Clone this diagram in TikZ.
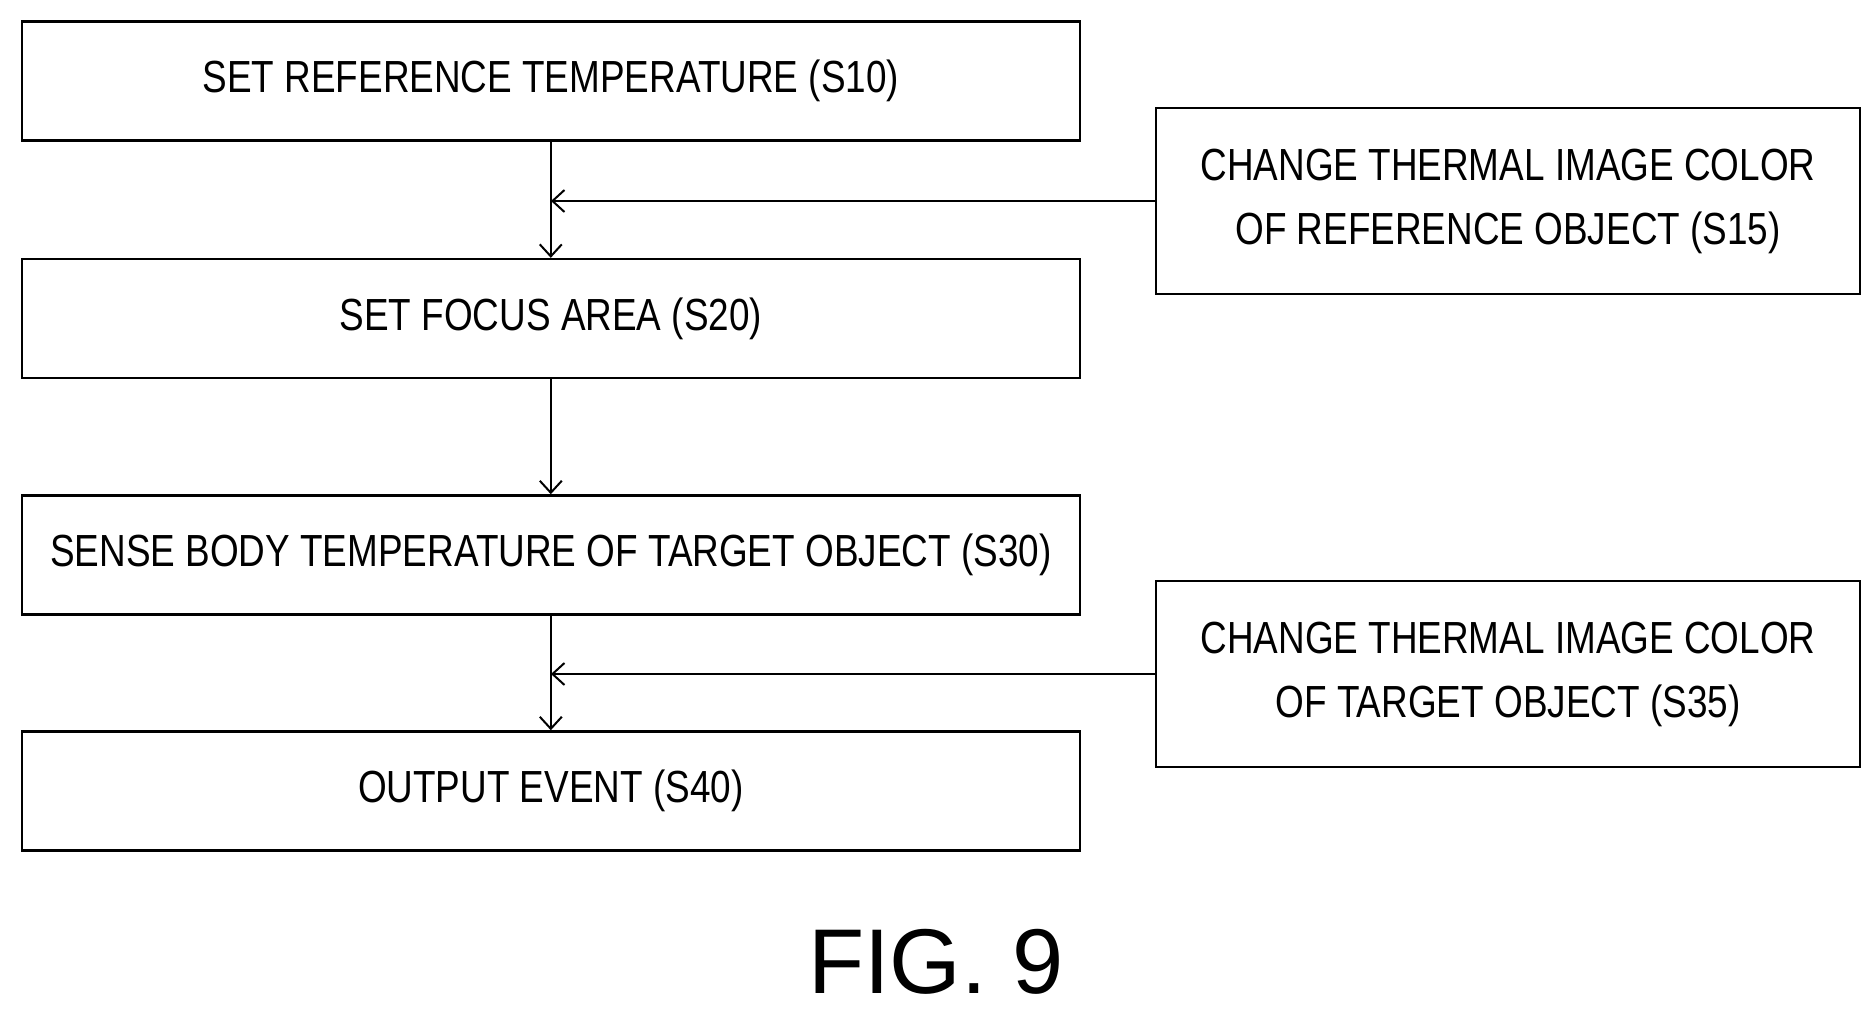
\documentclass[tikz,border=0pt]{standalone}
\usepackage{fontspec}
\setmainfont{Liberation Sans}[FakeStretch=0.82]
\newfontfamily\figfont{Liberation Sans}
\usetikzlibrary{arrows.meta}
\begin{document}
\begin{tikzpicture}[x=1pt,y=-1pt,
  box/.style={draw,line width=2.5pt,minimum height=119pt,inner sep=0pt,font=\fontsize{45}{54}\selectfont,align=center},
  rbox/.style={box,minimum width=704pt,minimum height=186pt},
  lbox/.style={box,minimum width=1058pt},
  arr/.style={line width=2pt,-{Straight Barb[length=12pt,width=22pt,line width=2pt]}}]
\useasboundingbox (0,0) rectangle (1871,1019);
\node[lbox] (s10) at (550.8,81) {SET REFERENCE TEMPERATURE (S10)};
\node[lbox] (s20) at (550.8,318.6) {SET FOCUS AREA (S20)};
\node[lbox] (s30) at (550.8,555) {SENSE BODY TEMPERATURE OF TARGET OBJECT (S30)};
\node[lbox] (s40) at (550.8,791) {OUTPUT EVENT (S40)};
\node[rbox] (s15) at (1508,201) {CHANGE THERMAL IMAGE COLOR\\[10pt]OF REFERENCE OBJECT (S15)};
\node[rbox] (s35) at (1508,674) {CHANGE THERMAL IMAGE COLOR\\[10pt]OF TARGET OBJECT (S35)};
\coordinate (j1) at (551,201);
\coordinate (j2) at (551,674);
\draw[arr] (s10) -- (s20);
\draw[arr] (s20) -- (s30);
\draw[arr] (s30) -- (s40);
\draw[arr] (s15.west) -- (j1);
\draw[arr] (s35.west) -- (j2);
\node[font=\figfont\fontsize{92}{100}\selectfont] (fig) at (936,962) {FIG. 9};
\end{tikzpicture}
\end{document}
